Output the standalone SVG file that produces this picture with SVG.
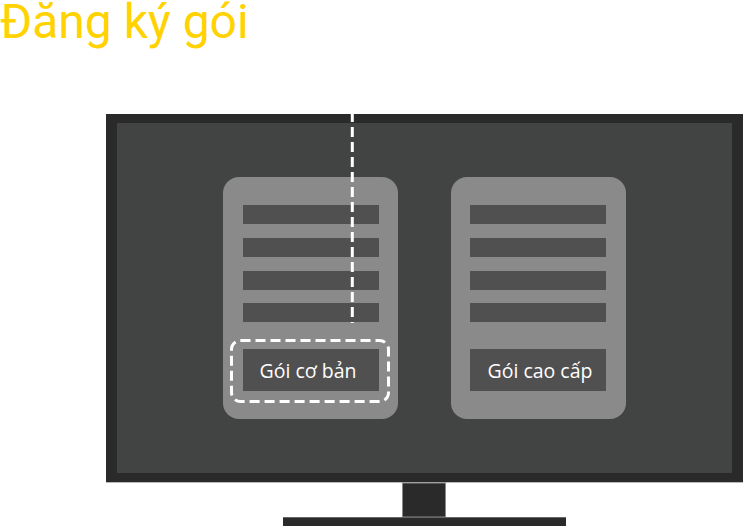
<svg xmlns="http://www.w3.org/2000/svg" width="743" height="526" viewBox="0 0 743 526">
<style>
.title{font-family:Roboto,"Noto Sans",sans-serif;font-size:48px;fill:#FFD200}
.card{fill:#8a8a8a}
.row{fill:#505050}
.btn{fill:#505050}
.lbl{font-family:"Open Sans","Noto Sans",sans-serif;font-size:19.5px;fill:#ffffff;text-anchor:middle}
.dash{fill:none;stroke:#ffffff;stroke-width:3;stroke-dasharray:10 5}
</style>
<rect width="743" height="526" fill="#ffffff"/>
<text class="title" x="0" y="38">Đăng ký gói</text>
<g id="monitor">
<rect x="106" y="114" width="637" height="368" fill="#2a2a2a"/>
<line x1="106" y1="482.5" x2="743" y2="482.5" stroke="#b8b8b8" stroke-width="1"/>
<rect x="117" y="123" width="615" height="350" fill="#424443"/>
<rect x="402.5" y="483" width="43" height="34" fill="#2a2a2a" stroke="#8a8a8a" stroke-width="1"/>
<rect x="283" y="517" width="283" height="9" fill="#2a2a2a"/>
<line x1="283" y1="517.5" x2="566" y2="517.5" stroke="#666" stroke-width="1"/>
</g>
<g id="card-basic">
<rect class="card" x="223" y="177" width="175" height="242" rx="16"/>
<rect class="row" x="243" y="205" width="136" height="19"/>
<rect class="row" x="243" y="238" width="136" height="19"/>
<rect class="row" x="243" y="271" width="136" height="19"/>
<rect class="row" x="243" y="303" width="136" height="19"/>
<rect class="btn" x="243" y="349" width="136" height="42"/>
<text class="lbl" x="308" y="378">Gói cơ bản</text>
<rect class="dash" x="231.5" y="340.5" width="157" height="61" rx="9"/>
</g>
<g id="card-premium">
<rect class="card" x="451" y="177" width="175" height="242" rx="16"/>
<rect class="row" x="470" y="205" width="136" height="19"/>
<rect class="row" x="470" y="238" width="136" height="19"/>
<rect class="row" x="470" y="271" width="136" height="19"/>
<rect class="row" x="470" y="303" width="136" height="19"/>
<rect class="btn" x="470" y="349" width="136" height="42"/>
<text class="lbl" x="540" y="378">Gói cao cấp</text>
</g>
<g id="connectors">
<line class="dash" x1="352.3" y1="112" x2="352.3" y2="323" stroke-dasharray="18 6"/>
</g>
</svg>
